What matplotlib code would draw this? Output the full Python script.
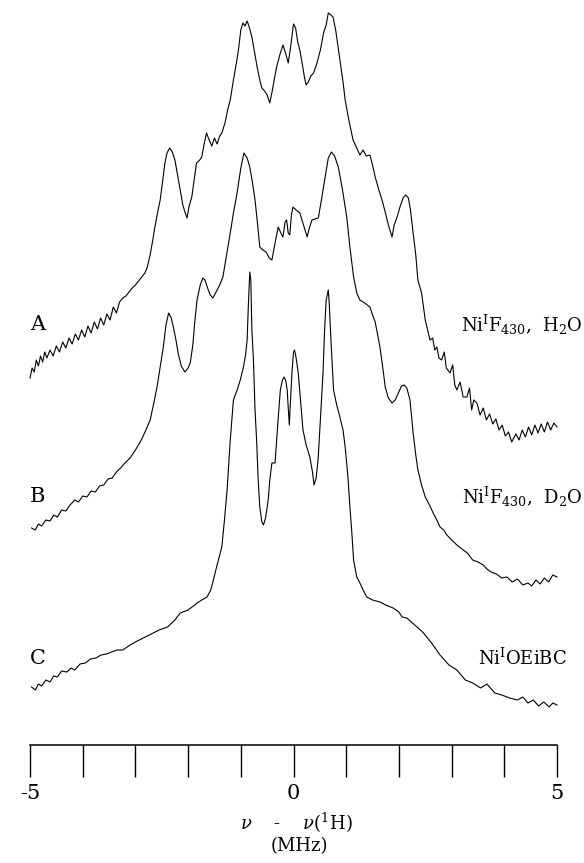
import numpy as np
import matplotlib
matplotlib.use("Agg")
import matplotlib.pyplot as plt

# ENDOR spectra, frequency offset (MHz) vs. intensity (a.u.)
freq_a = [-5.00, -4.96, -4.92, -4.88, -4.84, -4.80, -4.76, -4.72, -4.68, -4.62,
          -4.56, -4.50, -4.44, -4.38, -4.32, -4.26, -4.20, -4.14, -4.08, -4.02,
          -3.96, -3.90, -3.84, -3.78, -3.72, -3.66, -3.60, -3.54, -3.48, -3.42,
          -3.36, -3.30, -3.24, -3.18, -3.12, -3.06, -3.00, -2.94, -2.88, -2.82,
          -2.78, -2.72, -2.68, -2.63, -2.58, -2.53, -2.48, -2.44, -2.40, -2.35,
          -2.30, -2.25, -2.20, -2.15, -2.10, -2.06, -2.02, -1.98, -1.93, -1.88,
          -1.84, -1.78, -1.74, -1.70, -1.65, -1.60, -1.55, -1.50, -1.45, -1.40,
          -1.36, -1.30, -1.25, -1.20, -1.14, -1.08, -1.04, -1.00, -0.96, -0.92,
          -0.88, -0.84, -0.79, -0.74, -0.69, -0.64, -0.60, -0.55, -0.50, -0.45,
          -0.40, -0.36, -0.32, -0.26, -0.20, -0.14, -0.10, -0.05, 0.00, 0.04,
          0.08, 0.12, 0.17, 0.21, 0.24, 0.28, 0.33, 0.38, 0.44, 0.51,
          0.57, 0.62, 0.66, 0.71, 0.75, 0.80, 0.88, 0.94, 0.98, 1.05,
          1.13, 1.20, 1.26, 1.32, 1.38, 1.45, 1.50, 1.55, 1.62, 1.68,
          1.74, 1.80, 1.87, 1.91, 1.96, 2.02, 2.08, 2.13, 2.18, 2.22,
          2.27, 2.32, 2.36, 2.43, 2.50, 2.59, 2.64, 2.68, 2.72, 2.76,
          2.81, 2.86, 2.90, 2.97, 3.02, 3.06, 3.10, 3.16, 3.22, 3.29,
          3.34, 3.38, 3.42, 3.48, 3.54, 3.60, 3.66, 3.72, 3.78, 3.84,
          3.90, 3.96, 4.02, 4.08, 4.14, 4.18, 4.22, 4.28, 4.34, 4.40,
          4.46, 4.52, 4.58, 4.64, 4.70, 4.76, 4.82, 4.88, 4.94, 5.00]
sig_a = [67, 77, 73, 85, 79, 89, 83, 93, 87, 95,
         89, 99, 93, 103, 97, 107, 101, 111, 105, 115,
         108, 119, 112, 123, 116, 127, 120, 131, 125, 138,
         132, 143, 147, 149, 153, 157, 160, 164, 168, 172,
         177, 190, 202, 218, 232, 245, 265, 282, 292, 297,
         293, 285, 270, 255, 240, 233, 227, 239, 248, 267,
         282, 285, 288, 300, 312, 305, 299, 307, 301, 309,
         312, 322, 335, 345, 365, 383, 397, 415, 422, 419,
         424, 418, 408, 393, 378, 365, 357, 354, 350, 342,
         355, 367, 378, 390, 400, 390, 382, 400, 421, 417,
         403, 395, 380, 367, 360, 363, 369, 372, 381, 395,
         412, 420, 432, 430, 428, 415, 385, 363, 345, 325,
         305, 297, 290, 295, 289, 290, 280, 268, 255, 245,
         233, 220, 208, 220, 227, 238, 247, 250, 247, 235,
         212, 190, 165, 152, 125, 105, 107, 95, 98, 87,
         85, 93, 77, 72, 80, 60, 55, 63, 48, 48,
         57, 35, 45, 42, 30, 37, 25, 31, 21, 26,
         15, 20, 9, 13, 3, 7, 11, 5, 15, 8,
         18, 10, 20, 12, 21, 13, 23, 15, 22, 18]

freq_b = [-4.97, -4.90, -4.84, -4.78, -4.70, -4.62, -4.55, -4.48, -4.40, -4.32,
          -4.24, -4.15, -4.08, -4.00, -3.92, -3.84, -3.76, -3.68, -3.60, -3.52,
          -3.44, -3.36, -3.28, -3.20, -3.10, -3.00, -2.93, -2.87, -2.80, -2.72,
          -2.65, -2.59, -2.53, -2.47, -2.42, -2.37, -2.32, -2.28, -2.23, -2.19,
          -2.13, -2.06, -2.00, -1.96, -1.91, -1.87, -1.83, -1.77, -1.72, -1.68,
          -1.63, -1.58, -1.53, -1.47, -1.40, -1.34, -1.27, -1.20, -1.14, -1.07,
          -1.00, -0.94, -0.88, -0.83, -0.78, -0.73, -0.68, -0.64, -0.58, -0.52,
          -0.46, -0.41, -0.35, -0.29, -0.24, -0.20, -0.16, -0.13, -0.10, -0.07,
          -0.04, -0.01, 0.05, 0.12, 0.19, 0.26, 0.30, 0.35, 0.41, 0.47,
          0.53, 0.60, 0.66, 0.72, 0.78, 0.85, 0.93, 1.01, 1.07, 1.14,
          1.20, 1.26, 1.35, 1.45, 1.50, 1.55, 1.64, 1.70, 1.74, 1.80,
          1.87, 1.93, 1.99, 2.05, 2.10, 2.15, 2.21, 2.27, 2.32, 2.36,
          2.43, 2.50, 2.58, 2.65, 2.72, 2.78, 2.85, 2.91, 3.00, 3.10,
          3.22, 3.30, 3.40, 3.50, 3.60, 3.67, 3.75, 3.85, 3.95, 4.05,
          4.15, 4.25, 4.35, 4.45, 4.52, 4.60, 4.68, 4.76, 4.84, 4.92, 5.00]
sig_b = [62, 60, 66, 64, 70, 69, 75, 73, 80, 79,
         85, 90, 88, 94, 93, 99, 98, 104, 105, 111,
         112, 118, 122, 127, 132, 140, 146, 152, 160, 170,
         187, 203, 223, 243, 265, 277, 272, 263, 250, 237,
         224, 218, 222, 227, 245, 270, 290, 305, 312, 310,
         302, 295, 292, 298, 305, 313, 335, 357, 377, 397,
         422, 437, 432, 423, 408, 390, 365, 343, 340, 338,
         332, 330, 347, 363, 357, 353, 368, 370, 357, 355,
         375, 383, 380, 377, 365, 353, 362, 370, 371, 372,
         390, 413, 432, 438, 434, 423, 400, 373, 343, 313,
         297, 290, 287, 283, 275, 268, 243, 220, 203, 192,
         187, 190, 197, 204, 205, 202, 190, 157, 135, 120,
         105, 93, 85, 77, 70, 63, 60, 55, 50, 45,
         40, 37, 30, 28, 25, 21, 18, 16, 12, 13,
         8, 11, 5, 7, 4, 10, 6, 12, 8, 15, 13]

freq_c = [-4.97, -4.90, -4.84, -4.78, -4.70, -4.62, -4.55, -4.48, -4.40, -4.30,
          -4.22, -4.15, -4.05, -3.95, -3.85, -3.75, -3.65, -3.55, -3.45, -3.35,
          -3.24, -3.10, -3.00, -2.85, -2.70, -2.55, -2.39, -2.25, -2.15, -2.00,
          -1.90, -1.83, -1.74, -1.64, -1.57, -1.52, -1.45, -1.40, -1.36, -1.31,
          -1.26, -1.23, -1.20, -1.17, -1.14, -1.07, -1.01, -0.95, -0.91, -0.88,
          -0.86, -0.84, -0.83, -0.81, -0.79, -0.76, -0.73, -0.70, -0.67, -0.64,
          -0.60, -0.57, -0.53, -0.48, -0.45, -0.41, -0.35, -0.30, -0.25, -0.21,
          -0.18, -0.15, -0.12, -0.08, -0.05, -0.03, 0.00, 0.02, 0.05, 0.09,
          0.14, 0.18, 0.24, 0.31, 0.36, 0.39, 0.43, 0.47, 0.51, 0.56,
          0.59, 0.62, 0.66, 0.68, 0.71, 0.74, 0.76, 0.82, 0.88, 0.94,
          0.98, 1.03, 1.07, 1.11, 1.14, 1.20, 1.26, 1.33, 1.39, 1.50,
          1.64, 1.75, 1.89, 2.00, 2.06, 2.15, 2.30, 2.45, 2.62, 2.78,
          2.95, 3.10, 3.26, 3.40, 3.55, 3.67, 3.82, 3.95, 4.10, 4.25,
          4.35, 4.45, 4.55, 4.65, 4.75, 4.85, 4.92, 5.00]
sig_c = [25, 22, 28, 26, 32, 30, 36, 35, 41, 40,
         44, 42, 48, 49, 53, 54, 57, 58, 60, 62,
         62, 67, 70, 74, 78, 82, 85, 92, 99, 102,
         106, 109, 112, 115, 122, 132, 147, 157, 165, 192,
         222, 247, 272, 292, 312, 322, 332, 345, 357, 372,
         402, 427, 440, 432, 382, 352, 302, 272, 232, 205,
         190, 187, 194, 212, 232, 249, 249, 287, 322, 332,
         335, 332, 322, 287, 317, 339, 360, 362, 354, 339,
         307, 282, 267, 255, 240, 227, 234, 255, 292, 339,
         382, 412, 422, 407, 372, 342, 322, 307, 295, 282,
         265, 237, 205, 177, 152, 135, 129, 121, 115, 112,
         110, 107, 104, 100, 95, 94, 87, 80, 69, 57,
         47, 42, 32, 29, 24, 28, 19, 17, 14, 12,
         15, 9, 12, 6, 10, 5, 9, 7]

trace_labels = ["A", "B", "C"]
sample_labels = [r"Ni$^{\mathrm{I}}$F$_{430}$,  H$_2$O",
                 r"Ni$^{\mathrm{I}}$F$_{430}$,  D$_2$O",
                 r"Ni$^{\mathrm{I}}$OEiBC"]

plt.rcParams["font.family"] = ["DejaVu Serif"]
plt.rcParams["mathtext.fontset"] = "dejavuserif"

fig = plt.figure(figsize=(5.84, 8.63), dpi=100)
ax = fig.add_axes([0, 0, 1, 1])

offsets = [300, 155, 33]
label_y = [120, 93, 54]
for fr, sg, off, tl, sl, ly in zip([freq_a, freq_b, freq_c], [sig_a, sig_b, sig_c],
                                   offsets, trace_labels, sample_labels, label_y):
    ax.plot(fr, np.array(sg) + off, color="black", lw=0.8)
    ax.text(-4.85, off + ly, tl, fontsize=15, ha="center", va="center")
    ax.text(4.34, off + ly, sl, fontsize=13, ha="center", va="center")

ax.set_xlim(-5.569, 5.512)
ax.set_ylim(-118, 745)

for s in ["left", "right", "top"]:
    ax.spines[s].set_visible(False)
ax.spines["bottom"].set_position(("data", 0))
ax.spines["bottom"].set_bounds(-5, 5)
ax.spines["bottom"].set_linewidth(1.1)
ax.set_yticks([])
ax.set_xticks(range(-5, 6))
ax.set_xticklabels(["-5", "", "", "", "", "0", "", "", "", "", "5"])
ax.tick_params(axis="x", direction="out", length=23, width=1.0, pad=5, labelsize=15)

ax.text(0.05, -78, r"$\nu$    -    $\nu$($^{1}$H)", fontsize=13, ha="center", va="center")
ax.text(0.12, -101, "(MHz)", fontsize=13, ha="center", va="center")

fig.savefig("out.png", dpi=100)
